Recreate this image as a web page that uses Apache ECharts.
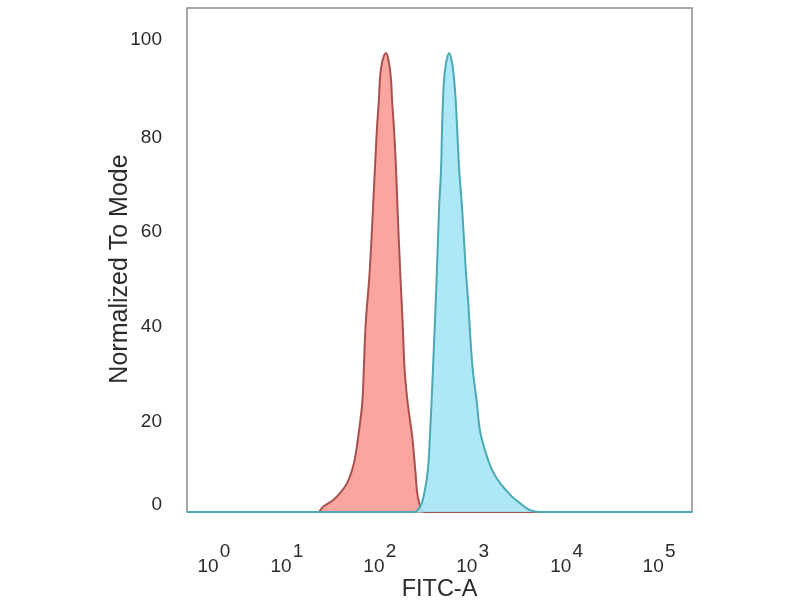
<!DOCTYPE html>
<html>
<head>
<meta charset="utf-8">
<script src="https://cdn.jsdelivr.net/npm/echarts@6/dist/echarts.min.js"></script>
<style>
html,body{margin:0;padding:0;background:#fff;}
#chart{width:800px;height:600px;}
</style>
</head>
<body>
<div id="chart"></div>
<script>
// x values are display channels (0..1000) of the biexponential FITC-A axis
var decadeTickChannels = [53.5, 198, 382, 566, 752, 935];
var decadeExponents = ['0', '1', '2', '3', '4', '5'];
var yTickValues = [0, 20, 40, 60, 80, 100];

var controlX = [0, 259, 269, 289, 303, 317, 327, 333, 339, 347, 350, 354, 362, 372, 376, 380, 382, 386, 394, 400, 404, 406, 410, 414, 417, 422, 427, 431, 437, 446, 452, 457, 465, 471, 1000];
var controlY = [0, 0, 1.1, 2.5, 4.0, 6.1, 8.9, 11.6, 15.9, 23.0, 30, 40, 51.2, 72.3, 80.8, 87.1, 91.3, 94.9, 97, 94.9, 91.3, 87.1, 80.8, 72.3, 63.8, 51.2, 40, 30, 23, 15.9, 8.9, 3.2, 0.4, 0, 0];

var stainedX = [0, 450, 457, 465, 471, 477, 481, 487, 495, 499, 503, 505, 507, 509, 513, 519, 525, 529, 532, 535, 539, 545, 552, 557, 561, 566, 574, 580, 590, 604, 620, 644, 659, 679, 699, 1000];
var stainedY = [0, 0, 0.4, 1.9, 4.6, 8.9, 15.9, 30, 51.2, 63.8, 72.3, 80.8, 87.1, 91.3, 94.9, 97, 94.9, 91.3, 87.1, 80.8, 72.3, 63.8, 51.2, 44.2, 37, 30, 23, 17.3, 13.1, 8.9, 6.1, 3.2, 1.9, 0.4, 0, 0];

function pairs(xs, ys) {
  var out = [];
  for (var i = 0; i < xs.length; i++) out.push([xs[i], ys[i]]);
  return out;
}

var FONT = 'Liberation Sans, Arial, sans-serif';
var TXT = '#2b2b2b';
var chart = echarts.init(document.getElementById('chart'));
chart.setOption({
  backgroundColor: '#ffffff',
  animation: false,
  grid: {
    left: 187, right: 108, top: 8, bottom: 88,
    show: true, borderColor: '#8c8c8c', borderWidth: 1.5,
    backgroundColor: '#ffffff',
    outerBoundsMode: 'none'
  },
  xAxis: {
    type: 'value', min: 0, max: 1000,
    name: 'FITC-A', nameLocation: 'middle', nameGap: 66, nameMoveOverlap: false,
    nameTextStyle: { fontFamily: FONT, fontSize: 23.5, color: TXT },
    axisLine: { show: false }, axisTick: { show: false }, splitLine: { show: false },
    axisLabel: {
      customValues: decadeTickChannels,
      margin: 35,
      formatter: function (v) {
        var i = decadeTickChannels.indexOf(v);
        return '{s|' + decadeExponents[i] + '}\n{b|10}';
      },
      rich: {
        b: { fontFamily: FONT, fontSize: 19, color: TXT, lineHeight: 19, padding: [0, 12, 0, 0] },
        s: { fontFamily: FONT, fontSize: 19, color: TXT, lineHeight: 10, padding: [0, 0, 0, 22] }
      }
    }
  },
  yAxis: {
    type: 'value', min: 0, max: 106.5,
    name: 'Normalized To Mode', nameLocation: 'middle', nameGap: 54, nameMoveOverlap: false,
    nameTextStyle: { fontFamily: FONT, fontSize: 25, color: TXT, padding: [0, 18, 0, 0] },
    axisLine: { show: false }, axisTick: { show: false }, splitLine: { show: false },
    axisLabel: {
      customValues: yTickValues,
      margin: 25,
      fontFamily: FONT, fontSize: 19, color: TXT,
      formatter: function (v) { return v === 0 ? '{z|0}' : (v === 100 ? '{t|100}' : '{n|' + v + '}'); },
      rich: {
        z: { fontFamily: FONT, fontSize: 19, color: TXT, lineHeight: 19, padding: [0, 0, 14, 0] },
        n: { fontFamily: FONT, fontSize: 19, color: TXT, lineHeight: 19, padding: [0, 0, -8, 0] },
        t: { fontFamily: FONT, fontSize: 19, color: TXT, lineHeight: 19, padding: [0, 0, -2, 0] }
      }
    }
  },
  series: [
    {
      name: 'Control', type: 'line', data: pairs(controlX, controlY),
      smooth: 0.4, showSymbol: false, symbol: 'none',
      lineStyle: { color: '#a9514f', width: 2 },
      areaStyle: { color: '#fa9b95', opacity: 0.9 },
      z: 2
    },
    {
      name: 'Stained', type: 'line', data: pairs(stainedX, stainedY),
      smooth: 0.4, showSymbol: false, symbol: 'none',
      lineStyle: { color: '#4aa9b4', width: 2 },
      areaStyle: { color: '#a5e5f5', opacity: 0.9 },
      z: 3
    }
  ]
});
</script>
</body>
</html>
